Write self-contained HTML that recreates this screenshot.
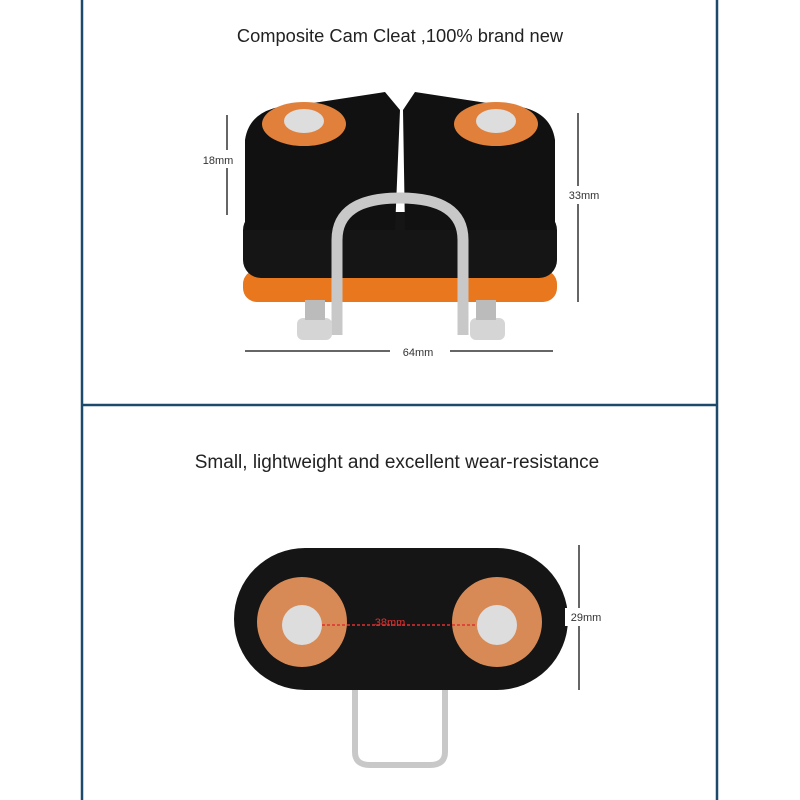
<!DOCTYPE html>
<html><head><style>
body{margin:0;background:#fff;}
.w{position:relative;width:800px;height:800px;overflow:hidden;background:#fff;font-family:"Liberation Sans",sans-serif;}
</style></head><body><div class="w">
<svg width="800" height="800" xmlns="http://www.w3.org/2000/svg" style="position:absolute;left:0;top:0">
<line x1="82" y1="0" x2="82" y2="800" stroke="#1d4a6b" stroke-width="2.5"/>
<line x1="717" y1="0" x2="717" y2="800" stroke="#1d4a6b" stroke-width="2.5"/>
<line x1="82" y1="405" x2="717" y2="405" stroke="#1d4a6b" stroke-width="2.5"/>
<text x="400" y="42" font-size="18.3" text-anchor="middle" fill="#222" font-family="Liberation Sans">Composite Cam Cleat ,100% brand new</text>
<text x="397" y="468" font-size="19" text-anchor="middle" fill="#222" font-family="Liberation Sans">Small, lightweight and excellent wear-resistance</text>
<!-- top cleat -->
<rect x="243" y="270" width="314" height="32" rx="14" fill="#e8771e"/>
<rect x="243" y="212" width="314" height="66" rx="18" fill="#151515"/>
<path d="M245 140 Q250 105 300 105 L385 92 L400 110 L395 230 L245 230 Z" fill="#111"/>
<path d="M555 140 Q550 105 500 105 L415 92 L403 110 L405 230 L555 230 Z" fill="#111"/>
<ellipse cx="304" cy="124" rx="42" ry="22" fill="#e0803a"/>
<ellipse cx="496" cy="124" rx="42" ry="22" fill="#e0803a"/>
<ellipse cx="304" cy="121" rx="20" ry="12" fill="#ddd"/>
<ellipse cx="496" cy="121" rx="20" ry="12" fill="#ddd"/>
<path d="M337 335 L337 240 Q337 198 400 198 Q463 198 463 240 L463 335" fill="none" stroke="#c8c8c8" stroke-width="11"/>
<rect x="297" y="318" width="35" height="22" rx="6" fill="#d5d5d5"/>
<rect x="470" y="318" width="35" height="22" rx="6" fill="#d5d5d5"/>
<rect x="305" y="300" width="20" height="20" fill="#bbb"/>
<rect x="476" y="300" width="20" height="20" fill="#bbb"/>
<!-- dims -->
<line x1="227" y1="115" x2="227" y2="215" stroke="#333" stroke-width="1.5"/>
<rect x="195" y="150" width="45" height="18" fill="#fff"/>
<text x="218" y="164" font-size="11" text-anchor="middle" fill="#333">18mm</text>
<line x1="578" y1="113" x2="578" y2="302" stroke="#333" stroke-width="1.5"/>
<rect x="565" y="186" width="40" height="18" fill="#fff"/>
<text x="584" y="199" font-size="11" text-anchor="middle" fill="#333">33mm</text>
<line x1="245" y1="351" x2="553" y2="351" stroke="#333" stroke-width="1.5"/>
<rect x="390" y="343" width="60" height="16" fill="#fff"/>
<text x="418" y="356" font-size="11" text-anchor="middle" fill="#333">64mm</text>
<!-- bottom cleat -->
<path d="M355 685 L355 752 Q355 765 370 765 L430 765 Q445 765 445 752 L445 685" fill="none" stroke="#c8c8c8" stroke-width="6"/>
<rect x="234" y="548" width="334" height="142" rx="71" fill="#151515"/>
<circle cx="302" cy="622" r="45" fill="#d78a55"/>
<circle cx="497" cy="622" r="45" fill="#d78a55"/>
<circle cx="302" cy="625" r="20" fill="#ddd"/>
<circle cx="497" cy="625" r="20" fill="#ddd"/>
<line x1="322" y1="625" x2="477" y2="625" stroke="#e03030" stroke-width="1.5" stroke-dasharray="3,2"/>
<text x="390" y="626" font-size="11" text-anchor="middle" fill="#e03030">38mm</text>
<line x1="579" y1="545" x2="579" y2="690" stroke="#333" stroke-width="1.5"/>
<rect x="565" y="608" width="42" height="18" fill="#fff"/>
<text x="586" y="621" font-size="11" text-anchor="middle" fill="#333">29mm</text>
</svg>
</div></body></html>
